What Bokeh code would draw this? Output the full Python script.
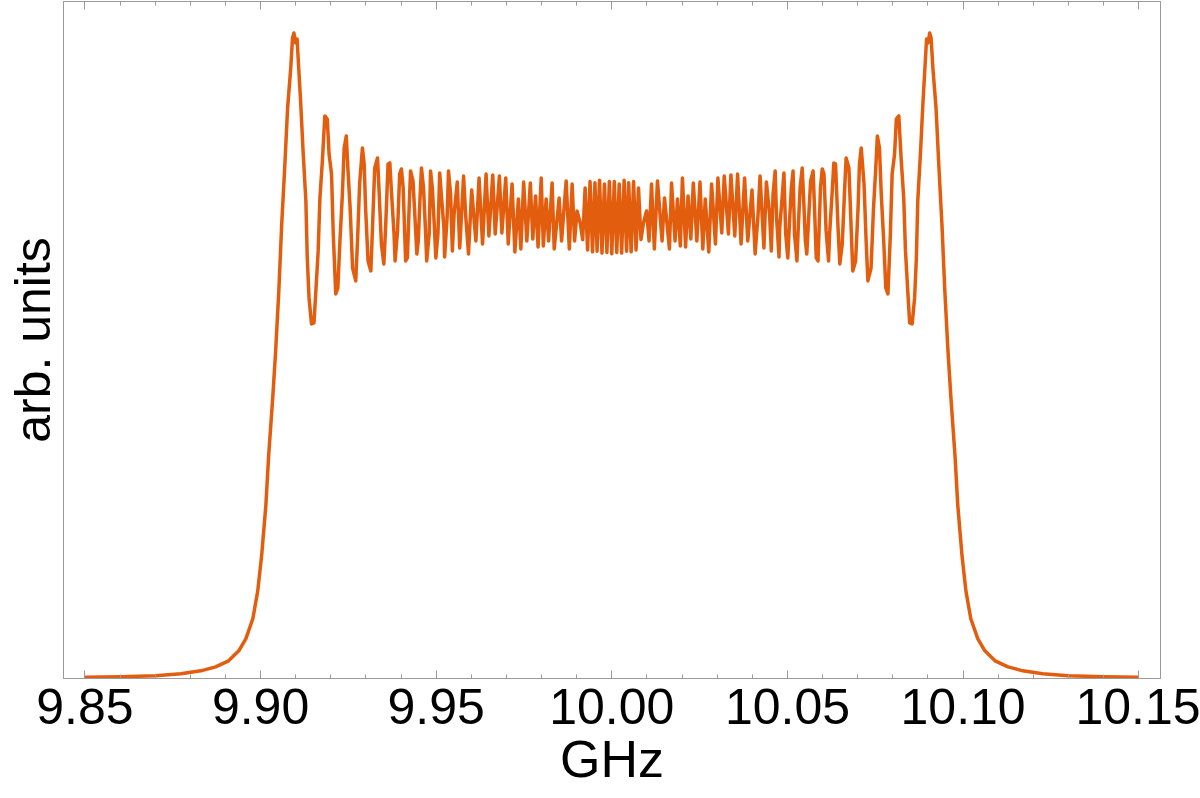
from bokeh.plotting import figure
from bokeh.models import Range1d, LinearAxis, FixedTicker
from bokeh.embed import file_html
from bokeh.resources import INLINE

# ---- data (GHz, arb. units) ----
rise_ghz = [9.8500, 9.8602, 9.8701, 9.8773, 9.8830, 9.8872, 9.8909, 9.8938, 9.8958,
            9.8978, 9.8992, 9.9003, 9.9015, 9.9023, 9.9035, 9.9043, 9.9052, 9.9060,
            9.9069, 9.9077, 9.9086, 9.9091, 9.9095, 9.9100, 9.9104]
rise_val = [0.0019, 0.0026, 0.0042, 0.0073, 0.0119, 0.0181, 0.0274, 0.0429, 0.0615,
            0.0925, 0.1358, 0.1900, 0.2675, 0.3449, 0.4378, 0.5075, 0.6004, 0.7011,
            0.7940, 0.8838, 0.9458, 0.9922, 1.0000, 0.9845, 0.9907]

left_ghz = [9.9107, 9.9114, 9.9121, 9.9129, 9.9133, 9.9138, 9.9145, 9.9152, 9.9157,
            9.9164, 9.9169, 9.9176, 9.9183, 9.9190, 9.9195, 9.9202, 9.9207, 9.9214,
            9.9220, 9.9226, 9.9233, 9.9238, 9.9244, 9.9249, 9.9255, 9.9262, 9.9271,
            9.9276, 9.9282, 9.9290, 9.9295, 9.9299, 9.9306, 9.9314, 9.9318, 9.9325,
            9.9333, 9.9337, 9.9344, 9.9351, 9.9356, 9.9363, 9.9368, 9.9373, 9.9380,
            9.9383, 9.9390, 9.9396, 9.9401, 9.9406, 9.9413, 9.9418, 9.9423, 9.9427,
            9.9434, 9.9439, 9.9445, 9.9449, 9.9454, 9.9458, 9.9464, 9.9470, 9.9473,
            9.9480, 9.9484, 9.9489, 9.9494, 9.9499, 9.9505, 9.9510, 9.9516, 9.9522,
            9.9524, 9.9531, 9.9535, 9.9541, 9.9546, 9.9551, 9.9560, 9.9567, 9.9578,
            9.9584, 9.9592, 9.9601, 9.9613, 9.9622, 9.9632, 9.9642, 9.9650, 9.9661,
            9.9668, 9.9680, 9.9687, 9.9698, 9.9705, 9.9716, 9.9724, 9.9734, 9.9741,
            9.9749, 9.9758, 9.9768, 9.9775, 9.9783, 9.9790, 9.9799, 9.9805, 9.9813,
            9.9820, 9.9830, 9.9836, 9.9850, 9.9857, 9.9870, 9.9879, 9.9887, 9.9894,
            9.9901, 9.9910]
left_val = [0.9613, 0.8947, 0.8173, 0.7398, 0.6515, 0.5896, 0.5493, 0.5509, 0.5958,
            0.6624, 0.7445, 0.8018, 0.8715, 0.8668, 0.8126, 0.7816, 0.6887, 0.5958,
            0.6051, 0.6779, 0.7507, 0.8219, 0.8405, 0.7863, 0.7290, 0.6360, 0.6159,
            0.6779, 0.7661, 0.8219, 0.7971, 0.7290, 0.6469, 0.6314, 0.6887, 0.7909,
            0.8064, 0.7600, 0.6732, 0.6422, 0.6980, 0.7971, 0.7987, 0.7507, 0.6887,
            0.6469, 0.6934, 0.7816, 0.7894, 0.7600, 0.6469, 0.6515, 0.7290, 0.7863,
            0.7708, 0.7197, 0.6577, 0.6779, 0.7445, 0.7909, 0.7600, 0.6887, 0.6469,
            0.6887, 0.7863, 0.7600, 0.7088, 0.6515, 0.6887, 0.7832, 0.7398, 0.6980,
            0.6531, 0.7135, 0.7863, 0.7507, 0.6624, 0.7197, 0.7692, 0.6670, 0.7785,
            0.7166, 0.6577, 0.7569, 0.6779, 0.7754, 0.6732, 0.7816, 0.6856, 0.7801,
            0.6887, 0.7785, 0.6903, 0.7754, 0.6732, 0.7661, 0.6608, 0.7429, 0.6655,
            0.7692, 0.6779, 0.7677, 0.6810, 0.7476, 0.6686, 0.7754, 0.6701, 0.7429,
            0.6779, 0.7677, 0.6655, 0.7445, 0.6779, 0.7708, 0.6655, 0.7661, 0.6779,
            0.7243, 0.7057]

center_ghz = [9.9917, 9.9924, 9.9931, 9.9938, 9.9945, 9.9952, 9.9958, 9.9965, 9.9972,
              9.9979, 9.9986, 9.9993, 10.0000, 10.0007, 10.0014, 10.0021, 10.0028,
              10.0035, 10.0042, 10.0048, 10.0055, 10.0062, 10.0069, 10.0076, 10.0083]
center_val = [0.680, 0.760, 0.664, 0.770, 0.661, 0.768, 0.662, 0.772, 0.659,
              0.766, 0.660, 0.770, 0.658, 0.770, 0.660, 0.766, 0.659,
              0.772, 0.662, 0.768, 0.661, 0.770, 0.664, 0.760, 0.680]

right_ghz = [10.0090, 10.0099, 10.0106, 10.0113, 10.0121, 10.0130, 10.0143, 10.0150,
             10.0164, 10.0170, 10.0180, 10.0187, 10.0195, 10.0201, 10.0210, 10.0217,
             10.0225, 10.0232, 10.0242, 10.0251, 10.0259, 10.0266, 10.0276, 10.0284,
             10.0295, 10.0302, 10.0313, 10.0320, 10.0332, 10.0339, 10.0350, 10.0358,
             10.0368, 10.0378, 10.0387, 10.0399, 10.0408, 10.0416, 10.0422, 10.0433,
             10.0440, 10.0449, 10.0454, 10.0459, 10.0465, 10.0469, 10.0476, 10.0478,
             10.0484, 10.0490, 10.0495, 10.0501, 10.0506, 10.0511, 10.0516, 10.0520,
             10.0527, 10.0530, 10.0536, 10.0542, 10.0546, 10.0551, 10.0555, 10.0561,
             10.0566, 10.0573, 10.0577, 10.0582, 10.0587, 10.0594, 10.0599, 10.0604,
             10.0610, 10.0617, 10.0620, 10.0627, 10.0632, 10.0637, 10.0644, 10.0649,
             10.0656, 10.0663, 10.0667, 10.0675, 10.0682, 10.0686, 10.0694, 10.0701,
             10.0705, 10.0710, 10.0718, 10.0724, 10.0729, 10.0738, 10.0745, 10.0751,
             10.0756, 10.0762, 10.0767, 10.0774, 10.0780, 10.0786, 10.0793, 10.0798,
             10.0805, 10.0810, 10.0817, 10.0824, 10.0831, 10.0836, 10.0843, 10.0848,
             10.0855, 10.0862, 10.0867, 10.0871, 10.0879, 10.0886, 10.0893]
right_val = [0.7057, 0.7243, 0.6779, 0.7661, 0.6655, 0.7708, 0.6779, 0.7445,
             0.6655, 0.7677, 0.6779, 0.7429, 0.6701, 0.7754, 0.6686, 0.7476,
             0.6810, 0.7677, 0.6779, 0.7692, 0.6655, 0.7429, 0.6608, 0.7661,
             0.6732, 0.7754, 0.6903, 0.7785, 0.6887, 0.7801, 0.6856, 0.7816,
             0.6732, 0.7754, 0.6779, 0.7569, 0.6577, 0.7166, 0.7785, 0.6670,
             0.7692, 0.7197, 0.6624, 0.7507, 0.7863, 0.7135, 0.6531, 0.6980,
             0.7398, 0.7832, 0.6887, 0.6515, 0.7088, 0.7600, 0.7863, 0.6887,
             0.6469, 0.6887, 0.7600, 0.7909, 0.7445, 0.6779, 0.6577, 0.7197,
             0.7708, 0.7863, 0.7290, 0.6515, 0.6469, 0.7600, 0.7894, 0.7816,
             0.6934, 0.6469, 0.6887, 0.7507, 0.7987, 0.7971, 0.6980, 0.6422,
             0.6732, 0.7600, 0.8064, 0.7909, 0.6887, 0.6314, 0.6469, 0.7290,
             0.7971, 0.8219, 0.7661, 0.6779, 0.6159, 0.6360, 0.7290, 0.7863,
             0.8405, 0.8219, 0.7507, 0.6779, 0.6051, 0.5958, 0.6887, 0.7816,
             0.8126, 0.8668, 0.8715, 0.8018, 0.7445, 0.6624, 0.5958, 0.5509,
             0.5493, 0.5896, 0.6515, 0.7398, 0.8173, 0.8947, 0.9613]

fall_ghz = [10.0896, 10.0900, 10.0905, 10.0909, 10.0914, 10.0923, 10.0931, 10.0940,
            10.0948, 10.0957, 10.0965, 10.0977, 10.0985, 10.0997, 10.1008, 10.1022,
            10.1042, 10.1062, 10.1091, 10.1128, 10.1170, 10.1227, 10.1299, 10.1398,
            10.1500]
fall_val = [0.9907, 0.9845, 1.0000, 0.9922, 0.9458, 0.8838, 0.7940, 0.7011,
            0.6004, 0.5075, 0.4378, 0.3449, 0.2675, 0.1900, 0.1358, 0.0925,
            0.0615, 0.0429, 0.0274, 0.0181, 0.0119, 0.0073, 0.0042, 0.0026,
            0.0019]

major_ticks = [9.85, 9.90, 9.95, 10.00, 10.05, 10.10, 10.15]
tick_labels = ["9.85", "9.90", "9.95", "10.00", "10.05", "10.10", "10.15"]
minor_ticks = [9.86, 9.87, 9.88, 9.89, 9.91, 9.92, 9.93, 9.94, 9.96, 9.97, 9.98, 9.99,
               10.01, 10.02, 10.03, 10.04, 10.06, 10.07, 10.08, 10.09, 10.11, 10.12,
               10.13, 10.14]

x_title = "GHz"
y_title = "arb. units"

# ---- figure ----
xs = rise_ghz + left_ghz + center_ghz + right_ghz + fall_ghz
ys = rise_val + left_val + center_val + right_val + fall_val

FRAME = "#999999"
FONT = "Liberation Sans"

p = figure(width=1200, height=798, output_backend="svg", toolbar_location=None,
           x_range=Range1d(9.8439, 10.1562), y_range=Range1d(0.0, 1.0488),
           min_border_left=63, min_border_right=40, min_border_top=1,
           min_border_bottom=120, x_axis_location=None, y_axis_location=None)
p.background_fill_color = "white"
p.border_fill_color = "white"
p.xgrid.visible = False
p.ygrid.visible = False
p.outline_line_color = FRAME
p.outline_line_width = 1

# bottom axis with labels
xb = LinearAxis(ticker=FixedTicker(ticks=major_ticks, minor_ticks=minor_ticks),
                axis_label=x_title)
xb.major_label_overrides = {t: s for t, s in zip(major_ticks, tick_labels)}
xb.axis_line_color = FRAME
xb.major_tick_line_color = FRAME
xb.minor_tick_line_color = FRAME
xb.major_tick_in = 8
xb.major_tick_out = 0
xb.minor_tick_in = 4
xb.minor_tick_out = 0
xb.major_label_text_font = FONT
xb.major_label_text_font_size = "50px"
xb.major_label_text_color = "black"
xb.major_label_standoff = 10
xb.axis_label_text_font = FONT
xb.axis_label_text_font_size = "52px"
xb.axis_label_text_font_style = "normal"
xb.axis_label_text_color = "black"
xb.axis_label_text_line_height = 1.0
xb.axis_label_standoff = 3
p.add_layout(xb, "below")

# top frame ticks (no labels): long ones and short ones
for tks, ln in ((major_ticks, 8), (minor_ticks, 4)):
    xt = LinearAxis(ticker=FixedTicker(ticks=[], minor_ticks=tks))
    xt.axis_line_color = FRAME
    xt.major_tick_line_color = None
    xt.minor_tick_line_color = FRAME
    xt.minor_tick_in = ln
    xt.minor_tick_out = 0
    xt.major_tick_out = 0
    xt.major_label_standoff = 0
    p.add_layout(xt, "above")

# left frame line carrying the y title
yl = LinearAxis(ticker=FixedTicker(ticks=[]), axis_label=y_title)
yl.axis_line_color = FRAME
yl.major_tick_line_color = None
yl.minor_tick_line_color = None
yl.major_tick_out = 0
yl.major_label_standoff = 0
yl.axis_label_text_font = FONT
yl.axis_label_text_font_size = "50px"
yl.axis_label_text_font_style = "normal"
yl.axis_label_text_color = "black"
yl.axis_label_text_line_height = 1.0
yl.axis_label_standoff = 3
p.add_layout(yl, "left")

p.line(xs, ys, line_color="#E35D0E", line_width=3.5, line_join="round")

open("out.html", "w").write(file_html(p, INLINE))
